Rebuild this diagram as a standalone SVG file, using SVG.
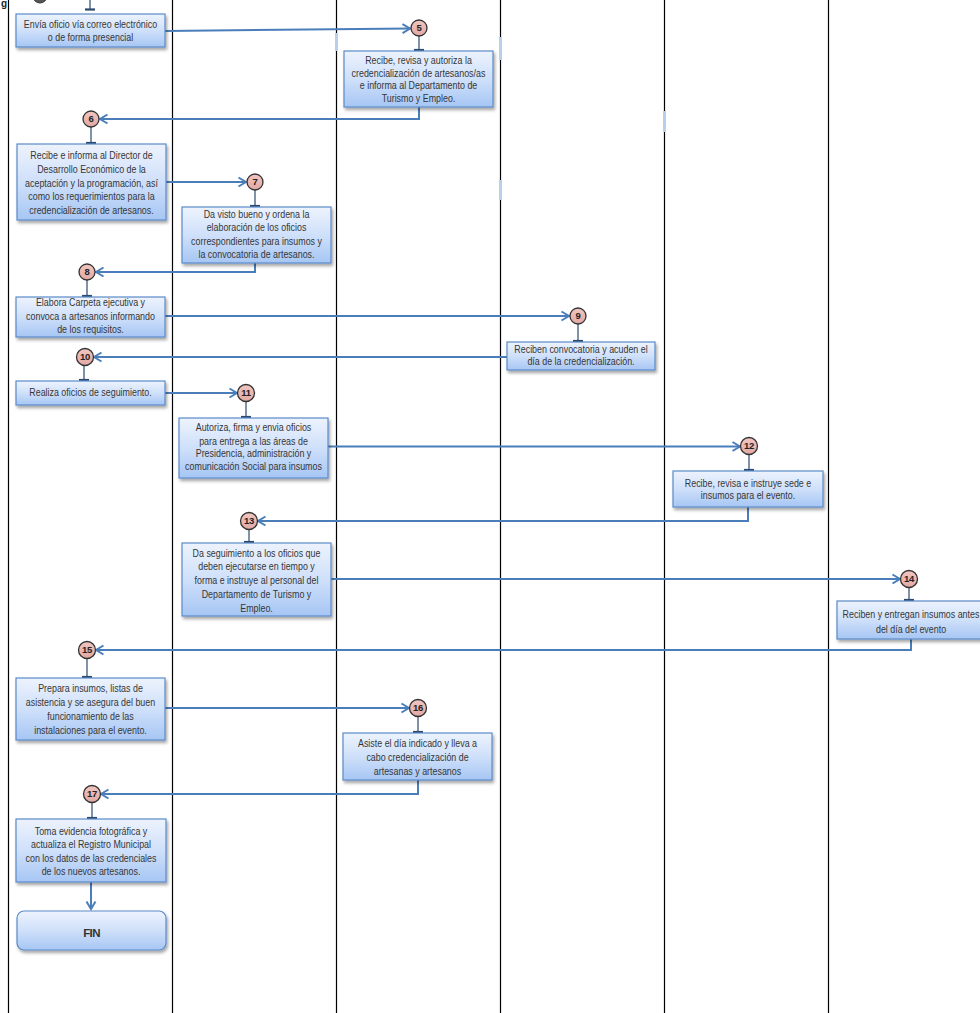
<svg xmlns="http://www.w3.org/2000/svg" width="980" height="1013" viewBox="0 0 980 1013">
  <defs>
    <linearGradient id="boxFill" x1="0" y1="0" x2="0" y2="1">
      <stop offset="0" stop-color="#edf3fd"/>
      <stop offset="0.5" stop-color="#cfe0fa"/>
      <stop offset="1" stop-color="#a6c6f4"/>
    </linearGradient>
    <linearGradient id="circleFill" x1="0" y1="0" x2="0" y2="1">
      <stop offset="0" stop-color="#f2c6c1"/>
      <stop offset="1" stop-color="#e2a8a2"/>
    </linearGradient>
    <filter id="shadow" x="-10%" y="-20%" width="125%" height="150%">
      <feDropShadow dx="1.5" dy="2.5" stdDeviation="1.4" flood-color="#000" flood-opacity="0.35"/>
    </filter>
    <marker id="arrow" markerUnits="userSpaceOnUse" markerWidth="12" markerHeight="12" refX="9" refY="6" orient="auto">
      <path d="M1.5,1.5 L9,6 L1.5,10.5" fill="none" stroke="#4a7ebb" stroke-width="2"/>
    </marker>
  </defs>
  <style>
    .lane { stroke: #000; stroke-width: 1.2; }
    .glitch { fill: #b9d0ec; }
    .box { fill: url(#boxFill); stroke: #5b8bc9; stroke-width: 1.2; filter: url(#shadow); }
    .conn { fill: none; stroke: #4a7ebb; stroke-width: 2; }
    .tee { fill: none; stroke: #2c4a6e; stroke-width: 1.2; }
    .teebar { stroke: #2c4a6e; stroke-width: 2.2; }
    .num { fill: url(#circleFill); stroke: #333; stroke-width: 1.3; }
    .numtxt { font-family: "Liberation Sans", Arial, sans-serif; font-size: 9.5px; font-weight: bold; fill: #222; text-anchor: middle; letter-spacing: -0.3px; }
    .lbl { font-family: "Liberation Sans", Arial, sans-serif; font-size: 10.6px; fill: #363636; text-anchor: middle; }
    .fin { font-family: "Liberation Sans", Arial, sans-serif; font-size: 11.5px; font-weight: bold; fill: #333; text-anchor: middle; letter-spacing: -0.6px; }
  </style>

  <rect x="0" y="0" width="980" height="1013" fill="#fff"/>

  <!-- swimlane dividers -->
  <g id="lanes">
    <line class="lane" x1="8.5" y1="0" x2="8.5" y2="1013"/>
    <line class="lane" x1="172.5" y1="0" x2="172.5" y2="1013"/>
    <line class="lane" x1="336.5" y1="0" x2="336.5" y2="1013"/>
    <line class="lane" x1="500.5" y1="0" x2="500.5" y2="1013"/>
    <line class="lane" x1="664.5" y1="0" x2="664.5" y2="1013"/>
    <line class="lane" x1="828.5" y1="0" x2="828.5" y2="1013"/>
    <rect class="glitch" x="335" y="33" width="3" height="18"/>
    <rect class="glitch" x="499" y="37" width="3" height="23"/>
    <rect class="glitch" x="663" y="111" width="3" height="21"/>
    <rect class="glitch" x="499" y="180" width="3" height="20"/>
  </g>

  <!-- remnants of the previous page at the top edge -->
  <g id="carry-over">
    <text x="1" y="7" font-family="Liberation Sans, Arial, sans-serif" font-size="10" font-weight="bold" fill="#222">g</text>
    <circle cx="40" cy="-4" r="7" fill="#555" stroke="#333" stroke-width="1"/>
    <line class="tee" x1="90" y1="0" x2="90" y2="9"/>
    <line class="teebar" x1="85" y1="9.5" x2="95" y2="9.5"/>
  </g>

  <!-- connectors -->
  <g id="connectors">
    <path class="conn" d="M165,31 L410,28.5" marker-end="url(#arrow)"/>
    <path class="conn" d="M419,107 V119 H100" marker-end="url(#arrow)"/>
    <path class="conn" d="M166,182 H246" marker-end="url(#arrow)"/>
    <path class="conn" d="M255,263 V272 H96" marker-end="url(#arrow)"/>
    <path class="conn" d="M165,316 H569" marker-end="url(#arrow)"/>
    <path class="conn" d="M507,357 H94" marker-end="url(#arrow)"/>
    <path class="conn" d="M165,393 H237" marker-end="url(#arrow)"/>
    <path class="conn" d="M328,446.5 H740" marker-end="url(#arrow)"/>
    <path class="conn" d="M748,507 V521 H258" marker-end="url(#arrow)"/>
    <path class="conn" d="M331,579 H900" marker-end="url(#arrow)"/>
    <path class="conn" d="M911,639 V650 H96" marker-end="url(#arrow)"/>
    <path class="conn" d="M165,708 H409" marker-end="url(#arrow)"/>
    <path class="conn" d="M418,780 V794 H101" marker-end="url(#arrow)"/>
    <path class="conn" d="M91,882 V909" marker-end="url(#arrow)"/>
  </g>

  <!-- step markers: circle + tee down to its activity box -->
  <g id="step5">
    <line class="tee" x1="419" y1="36" x2="419" y2="50"/><line class="teebar" x1="414" y1="50" x2="424" y2="50"/>
    <circle class="num" cx="419" cy="28" r="8"/><text class="numtxt" x="419" y="31.4">5</text>
  </g>
  <g id="step6">
    <line class="tee" x1="91" y1="127" x2="91" y2="143"/><line class="teebar" x1="86" y1="143" x2="96" y2="143"/>
    <circle class="num" cx="91" cy="119" r="8"/><text class="numtxt" x="91" y="122.4">6</text>
  </g>
  <g id="step7">
    <line class="tee" x1="255" y1="190" x2="255" y2="206"/><line class="teebar" x1="250" y1="206" x2="260" y2="206"/>
    <circle class="num" cx="255" cy="182" r="8"/><text class="numtxt" x="255" y="185.4">7</text>
  </g>
  <g id="step8">
    <line class="tee" x1="87" y1="280" x2="87" y2="296"/><line class="teebar" x1="82" y1="296" x2="92" y2="296"/>
    <circle class="num" cx="87" cy="272" r="8"/><text class="numtxt" x="87" y="275.4">8</text>
  </g>
  <g id="step9">
    <line class="tee" x1="578" y1="324" x2="578" y2="341"/><line class="teebar" x1="573" y1="341" x2="583" y2="341"/>
    <circle class="num" cx="578" cy="316" r="8"/><text class="numtxt" x="578" y="319.4">9</text>
  </g>
  <g id="step10">
    <line class="tee" x1="84" y1="365" x2="84" y2="380"/><line class="teebar" x1="79" y1="380" x2="89" y2="380"/>
    <circle class="num" cx="85" cy="357" r="8.5"/><text class="numtxt" x="85" y="360.4">10</text>
  </g>
  <g id="step11">
    <line class="tee" x1="246" y1="401" x2="246" y2="417"/><line class="teebar" x1="241" y1="417" x2="251" y2="417"/>
    <circle class="num" cx="246" cy="393" r="8.5"/><text class="numtxt" x="246" y="396.4">11</text>
  </g>
  <g id="step12">
    <line class="tee" x1="749" y1="454" x2="749" y2="470"/><line class="teebar" x1="744" y1="470" x2="754" y2="470"/>
    <circle class="num" cx="749" cy="446" r="8.5"/><text class="numtxt" x="749" y="449.4">12</text>
  </g>
  <g id="step13">
    <line class="tee" x1="249" y1="529" x2="249" y2="542"/><line class="teebar" x1="244" y1="542" x2="254" y2="542"/>
    <circle class="num" cx="249" cy="521" r="8.5"/><text class="numtxt" x="249" y="524.4">13</text>
  </g>
  <g id="step14">
    <line class="tee" x1="909" y1="587" x2="909" y2="600"/><line class="teebar" x1="904" y1="600" x2="914" y2="600"/>
    <circle class="num" cx="909" cy="579" r="8.5"/><text class="numtxt" x="909" y="582.4">14</text>
  </g>
  <g id="step15">
    <line class="tee" x1="87" y1="658" x2="87" y2="677"/><line class="teebar" x1="82" y1="677" x2="92" y2="677"/>
    <circle class="num" cx="87" cy="650" r="8.5"/><text class="numtxt" x="87" y="653.4">15</text>
  </g>
  <g id="step16">
    <line class="tee" x1="418" y1="716" x2="418" y2="732"/><line class="teebar" x1="413" y1="732" x2="423" y2="732"/>
    <circle class="num" cx="418" cy="708" r="8.5"/><text class="numtxt" x="418" y="711.4">16</text>
  </g>
  <g id="step17">
    <line class="tee" x1="92" y1="802" x2="92" y2="818"/><line class="teebar" x1="87" y1="818" x2="97" y2="818"/>
    <circle class="num" cx="92" cy="794" r="8.5"/><text class="numtxt" x="92" y="797.4">17</text>
  </g>

  <!-- activity boxes -->
  <g id="box4">
    <rect class="box" x="16" y="14" width="149" height="33"/>
    <g transform="translate(90.5,0) scale(0.84,1)">
      <text class="lbl" x="0" y="28.5">Envía oficio vía correo electrónico</text>
      <text class="lbl" x="0" y="41">o de forma presencial</text>
    </g>
  </g>
  <g id="box5">
    <rect class="box" x="344" y="51" width="149" height="56"/>
    <g transform="translate(418.5,0) scale(0.84,1)">
      <text class="lbl" x="0" y="64.5">Recibe, revisa y autoriza la</text>
      <text class="lbl" x="0" y="77">credencialización de artesanos/as</text>
      <text class="lbl" x="0" y="89.5">e informa al Departamento de</text>
      <text class="lbl" x="0" y="102.5">Turismo y Empleo.</text>
    </g>
  </g>
  <g id="box6">
    <rect class="box" x="17" y="144" width="149" height="76"/>
    <g transform="translate(91.5,0) scale(0.84,1)">
      <text class="lbl" x="0" y="159">Recibe e informa al Director de</text>
      <text class="lbl" x="0" y="173.5">Desarrollo Económico de la</text>
      <text class="lbl" x="0" y="187">aceptación y la programación, así</text>
      <text class="lbl" x="0" y="200.5">como los requerimientos para la</text>
      <text class="lbl" x="0" y="214">credencialización de artesanos.</text>
    </g>
  </g>
  <g id="box7">
    <rect class="box" x="182" y="207" width="149" height="56"/>
    <g transform="translate(256.5,0) scale(0.84,1)">
      <text class="lbl" x="0" y="218.5">Da visto bueno y ordena la</text>
      <text class="lbl" x="0" y="231.5">elaboración de los oficios</text>
      <text class="lbl" x="0" y="245">correspondientes para insumos y</text>
      <text class="lbl" x="0" y="258.5">la convocatoria de artesanos.</text>
    </g>
  </g>
  <g id="box8">
    <rect class="box" x="16" y="297" width="149" height="40"/>
    <g transform="translate(90.5,0) scale(0.84,1)">
      <text class="lbl" x="0" y="306.5">Elabora Carpeta ejecutiva y</text>
      <text class="lbl" x="0" y="320">convoca a artesanos informando</text>
      <text class="lbl" x="0" y="333.5">de los requisitos.</text>
    </g>
  </g>
  <g id="box9">
    <rect class="box" x="507" y="342" width="148" height="28"/>
    <g transform="translate(581,0) scale(0.84,1)">
      <text class="lbl" x="0" y="353.5">Reciben convocatoria y acuden el</text>
      <text class="lbl" x="0" y="365.5">día de la credencialización.</text>
    </g>
  </g>
  <g id="box10">
    <rect class="box" x="16" y="381" width="149" height="24"/>
    <g transform="translate(90.5,0) scale(0.84,1)">
      <text class="lbl" x="0" y="396.5">Realiza oficios de seguimiento.</text>
    </g>
  </g>
  <g id="box11">
    <rect class="box" x="179" y="418" width="149" height="60"/>
    <g transform="translate(253.5,0) scale(0.84,1)">
      <text class="lbl" x="0" y="431">Autoriza, firma y envia  oficios</text>
      <text class="lbl" x="0" y="445">para entrega a las áreas de</text>
      <text class="lbl" x="0" y="457.5">Presidencia, administración y</text>
      <text class="lbl" x="0" y="470">comunicación Social para insumos</text>
    </g>
  </g>
  <g id="box12">
    <rect class="box" x="673" y="471" width="150" height="36"/>
    <g transform="translate(748,0) scale(0.84,1)">
      <text class="lbl" x="0" y="487">Recibe, revisa e instruye sede e</text>
      <text class="lbl" x="0" y="499.5">insumos para el evento.</text>
    </g>
  </g>
  <g id="box13">
    <rect class="box" x="182" y="543" width="149" height="73"/>
    <g transform="translate(256.5,0) scale(0.84,1)">
      <text class="lbl" x="0" y="557">Da seguimiento a los oficios que</text>
      <text class="lbl" x="0" y="570">deben ejecutarse en tiempo y</text>
      <text class="lbl" x="0" y="584">forma e instruye al personal del</text>
      <text class="lbl" x="0" y="598.5">Departamento de Turismo y</text>
      <text class="lbl" x="0" y="612">Empleo.</text>
    </g>
  </g>
  <g id="box14">
    <rect class="box" x="837" y="601" width="150" height="38"/>
    <g transform="translate(911,0) scale(0.84,1)">
      <text class="lbl" x="0" y="618.5">Reciben y entregan insumos antes</text>
      <text class="lbl" x="0" y="633.5">del día del evento</text>
    </g>
  </g>
  <g id="box15">
    <rect class="box" x="16" y="678" width="149" height="62"/>
    <g transform="translate(90.5,0) scale(0.84,1)">
      <text class="lbl" x="0" y="692">Prepara insumos, listas de</text>
      <text class="lbl" x="0" y="706">asistencia y se asegura del buen</text>
      <text class="lbl" x="0" y="720">funcionamiento de las</text>
      <text class="lbl" x="0" y="734">instalaciones para el evento.</text>
    </g>
  </g>
  <g id="box16">
    <rect class="box" x="343" y="733" width="149" height="47"/>
    <g transform="translate(417.5,0) scale(0.84,1)">
      <text class="lbl" x="0" y="747">Asiste el día indicado y lleva a</text>
      <text class="lbl" x="0" y="761">cabo credencialización de</text>
      <text class="lbl" x="0" y="775">artesanas y artesanos</text>
    </g>
  </g>
  <g id="box17">
    <rect class="box" x="16" y="819" width="150" height="63"/>
    <g transform="translate(91,0) scale(0.84,1)">
      <text class="lbl" x="0" y="835">Toma evidencia fotográfica y</text>
      <text class="lbl" x="0" y="848.5">actualiza el Registro Municipal</text>
      <text class="lbl" x="0" y="862.5">con los datos de las credenciales</text>
      <text class="lbl" x="0" y="875.5">de los nuevos artesanos.</text>
    </g>
  </g>
  <g id="fin">
    <rect class="box" x="17" y="911" width="149" height="39" rx="7" ry="7"/>
    <text class="fin" x="91.5" y="937">FIN</text>
  </g>
</svg>
